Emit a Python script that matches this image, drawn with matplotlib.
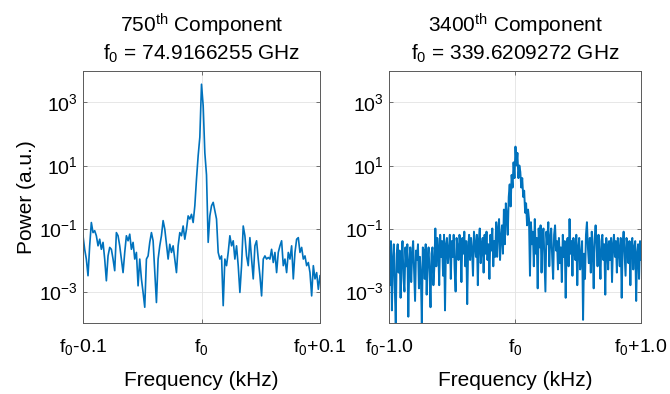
import numpy as np
import matplotlib
matplotlib.use("Agg")
import matplotlib.pyplot as plt
from matplotlib.ticker import FixedLocator, NullLocator

plt.rcParams['font.family'] = ['Liberation Sans', 'DejaVu Sans']
plt.rcParams['mathtext.fontset'] = 'custom'
plt.rcParams['mathtext.rm'] = 'Liberation Sans'
plt.rcParams['mathtext.it'] = 'Liberation Sans'

# 750th component, span f0 +/- 0.1 kHz, log10 of power
left_span = 0.1
left_log_power = [
    -1.23, -1.66, -1.97, -2.50, -1.55, -0.81, -1.13, -1.07, -1.23, -1.55,
    -1.34, -1.66, -1.44, -1.97, -2.66, -1.87, -1.60, -1.66, -1.97, -2.34,
    -1.13, -1.23, -1.55, -1.97, -2.40, -1.76, -1.23, -1.39, -1.18, -1.66,
    -1.44, -1.97, -1.76, -2.82, -1.97, -2.60, -3.03, -3.50, -1.97, -1.87,
    -1.44, -1.13, -1.39, -2.40, -3.35, -1.97, -1.55, -1.23, -0.75, -1.02,
    -1.50, -1.97, -1.50, -1.76, -1.55, -1.97, -2.40, -1.55, -1.13, -1.23,
    -0.92, -1.34, -1.02, -0.60, -0.70, -0.55, -0.81, -0.28, 0.57, 1.31,
    1.90, 3.58, 2.90, 1.40, 0.70, -1.44, -0.60, -0.28, -0.17, -0.44,
    -0.70, -1.76, -1.97, -1.87, -3.45, -1.97, -2.18, -1.76, -1.23, -1.55,
    -1.39, -1.97, -1.55, -2.18, -3.03, -2.18, -0.92, -1.23, -1.87, -2.18,
    -1.29, -1.97, -2.60, -1.55, -1.39, -1.97, -2.50, -3.14, -1.97, -1.87,
    -1.97, -1.92, -1.97, -1.66, -2.08, -1.76, -2.40, -1.76, -1.55, -1.39,
    -2.18, -1.97, -2.40, -1.76, -1.97, -1.55, -2.60, -1.76, -1.34, -1.29,
    -1.76, -1.60, -1.97, -1.87, -2.18, -2.08, -2.40, -3.14, -2.18, -2.60,
    -2.40, -2.93, -2.50,
]

# 3400th component, span f0 +/- 1.0 kHz, log10 of power (noisy, read roughly)
right_span = 1.0
right_log_power = [
    # f0-1.0 ... f0-0.62
    -1.6, -2.8, -1.4, -3.6, -2.0, -1.5, -2.9, -4.0, -1.8, -1.5,
    -2.4, -1.7, -3.2, -1.9, -1.4, -2.6, -3.0, -1.6, -2.2, -1.5,
    -3.8, -2.1, -1.6, -2.7, -1.8, -1.4, -2.3, -3.3, -1.7, -2.0,
    -1.5, -2.9, -1.9, -2.5, -4.0, -1.6, -1.7, -2.6, -1.5, -3.1,
    -2.0, -1.6, -2.4, -3.5, -1.8, -1.6, -2.8, -2.2,
    # ... f0-0.12
    -1.0, -2.2, -1.3, -1.6, -2.8, -1.2, -1.9, -1.4, -2.5, -1.2,
    -3.6, -1.5, -1.3, -2.1, -1.7, -1.2, -2.6, -1.4, -1.9, -1.2,
    -2.3, -3.0, -1.3, -1.6, -2.0, -1.2, -1.5, -2.7, -1.3, -1.8,
    -1.1, -2.2, -1.4, -3.4, -1.6, -1.2, -2.0, -1.3, -1.7, -2.5,
    -1.1, -1.5, -1.9, -1.2, -2.8, -1.4, -1.0, -2.1, -1.6, -1.3,
    -2.4, -1.2, -1.8, -1.1, -2.0, -1.5, -2.6, -1.2, -1.7, -1.0,
    -2.2, -1.4, -1.9,
    -0.8, -1.9, -1.0, -0.7, -2.0, -1.3, -0.9, -1.8,
    # peak
    -0.4, -1.5, -0.2, -0.6, -1.2, 0.0, 0.4, -0.3, 0.7, 0.3,
    1.1, 0.6, 1.6, 1.0, 1.4, 0.6, 1.0, 0.8, 0.3, 0.6,
    0.0, 0.2, -0.5, -0.2, -0.9, -0.4, -0.7,
    # f0+0.12 ...
    -2.5, -0.8, -1.5, -1.1, -2.2, -0.7, -1.8, -1.3, -2.9, -1.0,
    -1.6, -0.9, -2.4, -1.2, -1.0, -2.0, -3.0, -1.1, -1.5, -0.8,
    -2.2, -1.3, -1.0, -1.9, -2.6, -1.2, -0.9, -1.7, -1.4, -2.3,
    # ... f0+1.0
    -1.3, -2.1, -1.6, -2.7, -1.2, -1.9, -1.4, -3.2, -1.5, -1.3,
    -2.2, -0.7, -1.8, -1.4, -2.5, -1.3, -1.7, -2.0, -1.2, -2.8,
    -1.6, -1.3, -2.3, -1.9, -1.4, -3.9, -1.8, -2.6, -1.2, -0.8,
    -1.6, -2.1, -1.3, -2.4, -1.1, -1.7, -2.9, -1.3, -0.9, -1.5,
    -2.2, -1.2, -1.8, -2.6, -1.4, -1.2, -2.0, -1.5, -3.1, -1.3,
    -1.6, -2.3, -1.4, -2.0, -1.3, -2.7, -1.5, -1.2, -1.9, -1.4,
    -2.4, -1.3, -1.7, -2.2, -1.3, -3.2, -1.5, -1.1, -1.8, -2.5,
    -1.3, -1.6, -2.1, -1.4, -2.8, -1.5, -1.3, -2.3, -1.6, -1.4,
    -3.3, -1.8, -1.5, -2.6, -1.4, -2.0,
]

panels = [
    {"title": "750$^{\\mathrm{th}}$ Component\nf$_0$ = 74.9166255 GHz", "span": left_span,
     "log_power": np.array(left_log_power), "ticks": ["f$_0$-0.1", "f$_0$", "f$_0$+0.1"],
     "lw": 1.2},
    {"title": "3400$^{\\mathrm{th}}$ Component\nf$_0$ = 339.6209272 GHz", "span": right_span,
     "log_power": np.array(right_log_power), "ticks": ["f$_0$-1.0", "f$_0$", "f$_0$+1.0"],
     "lw": 1.4},
]

fig = plt.figure(figsize=(6.7, 3.94), dpi=100)
rects = [[83 / 670, 71 / 394, 237 / 670, 252 / 394],
         [389 / 670, 71 / 394, 252 / 670, 252 / 394]]

for i, (p, r) in enumerate(zip(panels, rects)):
    ax = fig.add_axes([r[0], 1 - r[1] - r[3], r[2], r[3]])
    freq = np.linspace(-p["span"], p["span"], len(p["log_power"]))
    ax.plot(freq, 10 ** p["log_power"], color='#0072BD', lw=p["lw"])
    ax.set_yscale('log')
    ax.set_ylim(1e-4, 1e4)
    ax.set_xlim(-p["span"], p["span"])
    ax.yaxis.set_major_locator(FixedLocator([1e-3, 1e-1, 1e1, 1e3]))
    ax.yaxis.set_minor_locator(NullLocator())
    ax.set_xticks([-p["span"], 0, p["span"]])
    ax.set_xticklabels(p["ticks"])
    ax.grid(True, color='#e3e3e3', lw=0.6)
    ax.set_axisbelow(True)
    for s in ax.spines.values():
        s.set_color('#5a5a5a')
        s.set_linewidth(0.7)
    ax.tick_params(direction='in', top=True, right=True, length=3, width=0.6,
                   color='#5a5a5a', labelsize=14)
    ax.tick_params(axis='y', pad=4)
    ax.tick_params(axis='x', pad=10)
    ax.set_title(p["title"], fontsize=15, linespacing=1.25, pad=8)
    ax.set_xlabel("Frequency (kHz)", fontsize=15, labelpad=10)
    if i == 0:
        ax.set_ylabel("Power (a.u.)", fontsize=15, labelpad=2)

fig.savefig("out.png", dpi=100)
